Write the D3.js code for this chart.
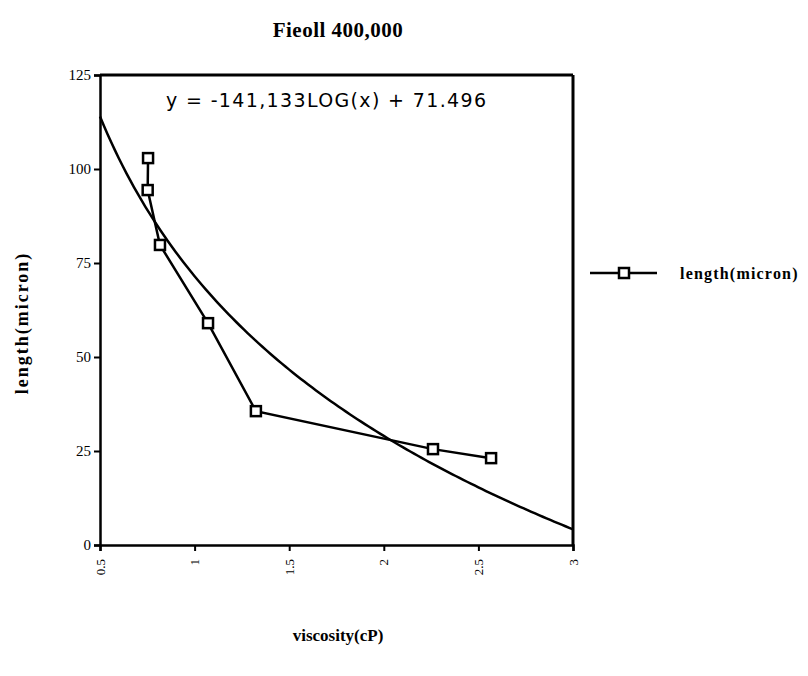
<!DOCTYPE html>
<html><head><meta charset="utf-8">
<script src="https://cdn.jsdelivr.net/npm/d3@7"></script>
<style>body{margin:0;background:#fff}</style>
</head><body>
<svg id="c" width="808" height="676"></svg>
<script>
const viscosity = [0.754, 0.752, 0.817, 1.071, 1.324, 2.26, 2.567];
const lengthMicron = [102.9, 94.4, 79.8, 59.0, 35.6, 25.5, 23.1];
const xTicks = [0.5, 1, 1.5, 2, 2.5, 3];
const yTicks = [0, 25, 50, 75, 100, 125];
const trendSlope = -141.133;
const trendIntercept = 71.496;
const trendSamples = d3.range(0.5, 3.0001, 0.02);

const svg = d3.select("#c");
const L = 100, R = 573, T = 75, B = 545;
const x = d3.scaleLinear().domain([0.5, 3]).range([L, R]);
const y = d3.scaleLinear().domain([0, 125]).range([B, T]);
const serif = "'Liberation Serif','Times New Roman',serif";

svg.append("text").attr("x", 338).attr("y", 37).attr("text-anchor", "middle")
  .attr("font-family", serif).attr("font-weight", "bold").attr("font-size", 21)
  .attr("letter-spacing", 0.5).text("Fieoll 400,000");

// frame
svg.append("line").attr("x1", L).attr("x2", R).attr("y1", T).attr("y2", T).attr("stroke", "#000").attr("stroke-width", 3);
svg.append("line").attr("x1", R).attr("x2", R).attr("y1", T).attr("y2", B).attr("stroke", "#000").attr("stroke-width", 3);

// axes
const yAxis = svg.append("g").attr("transform", `translate(${L},0)`)
  .call(d3.axisLeft(y).tickValues(yTicks).tickSize(6).tickPadding(3).tickFormat(d3.format("d")));
yAxis.select(".domain").attr("stroke-width", 2.5);
yAxis.selectAll(".tick line").attr("stroke-width", 2);
yAxis.selectAll("text").attr("font-family", serif).attr("font-size", 15).attr("fill", "#000");

const xAxis = svg.append("g").attr("transform", `translate(0,${B})`)
  .call(d3.axisBottom(x).tickValues(xTicks).tickSize(6).tickFormat(d => String(d)));
xAxis.select(".domain").attr("stroke-width", 2.5);
xAxis.selectAll(".tick line").attr("stroke-width", 2);
xAxis.selectAll("text").attr("font-family", serif).attr("font-size", 13).attr("fill", "#000")
  .attr("transform", "rotate(-90)").attr("text-anchor", "end").attr("x", -14).attr("y", 0).attr("dy", "0.32em");

// trendline
svg.append("path").datum(trendSamples)
  .attr("d", d3.line().x(d => x(d)).y(d => y(trendSlope * Math.log10(d) + trendIntercept)))
  .attr("fill", "none").attr("stroke", "#000").attr("stroke-width", 2.5);

// data line
const pts = viscosity.map((v, i) => [v, lengthMicron[i]]);
svg.append("path").datum(pts)
  .attr("d", d3.line().x(d => x(d[0])).y(d => y(d[1])))
  .attr("fill", "none").attr("stroke", "#000").attr("stroke-width", 2.5);
svg.selectAll("rect.pt").data(pts).join("rect").attr("class", "pt")
  .attr("x", d => x(d[0]) - 5).attr("y", d => y(d[1]) - 5).attr("width", 10).attr("height", 10)
  .attr("fill", "#fff").attr("stroke", "#000").attr("stroke-width", 2.5);

// equation
svg.append("text").attr("x", 166).attr("y", 107)
  .attr("font-family", "'DejaVu Sans',sans-serif").attr("font-size", 19)
  .attr("textLength", 320).attr("lengthAdjust", "spacing")
  .text("y =  -141,133LOG(x) + 71.496");

// axis titles
svg.append("text").attr("x", 338).attr("y", 641).attr("text-anchor", "middle")
  .attr("font-family", serif).attr("font-weight", "bold").attr("font-size", 17).text("viscosity(cP)");
svg.append("text").attr("transform", "translate(28,323) rotate(-90)").attr("text-anchor", "middle")
  .attr("font-family", serif).attr("font-weight", "bold").attr("font-size", 18)
  .attr("letter-spacing", 2).text("length(micron)");

// legend
svg.append("line").attr("x1", 590).attr("x2", 657).attr("y1", 273).attr("y2", 273).attr("stroke", "#000").attr("stroke-width", 2.5);
svg.append("rect").attr("x", 619).attr("y", 268).attr("width", 10).attr("height", 10)
  .attr("fill", "#fff").attr("stroke", "#000").attr("stroke-width", 2.5);
svg.append("text").attr("x", 680).attr("y", 279).attr("font-family", serif).attr("font-weight", "bold")
  .attr("font-size", 16).attr("letter-spacing", 1.2).text("length(micron)");
</script>
</body></html>
